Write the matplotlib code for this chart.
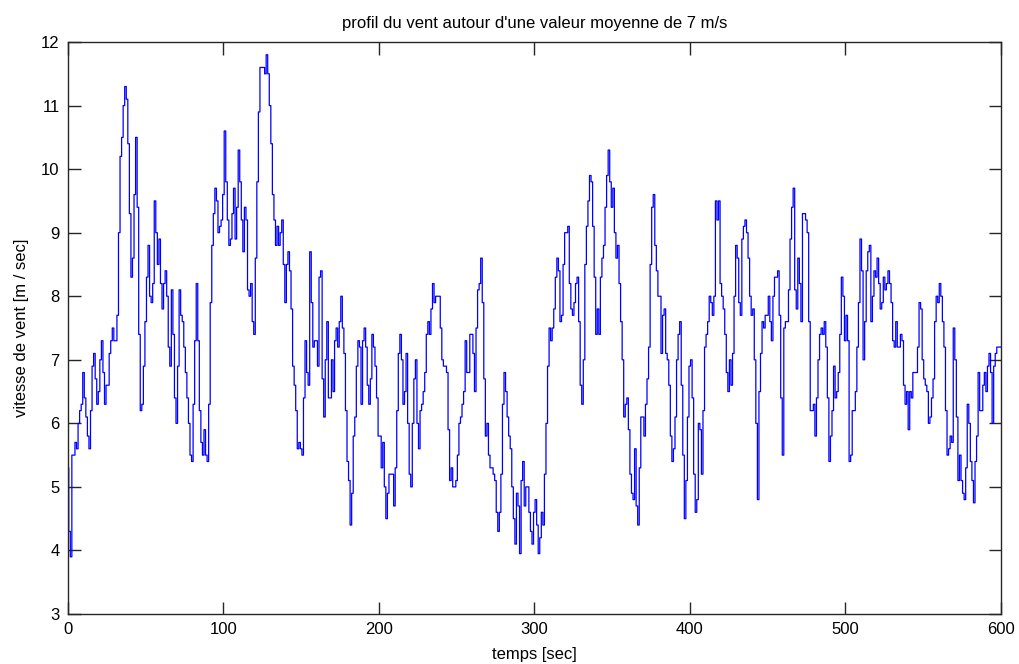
import numpy as np
import matplotlib.pyplot as plt

# vitesse du vent, un point par seconde
seg_0_100 = [5.3, 4.3, 3.9, 5.5, 5.5, 5.7, 5.6, 6.0, 6.2, 6.3,
             6.8, 6.4, 6.1, 5.8, 5.6, 6.2, 6.9, 7.1, 6.7, 6.3,
             6.5, 7.0, 7.3, 6.8, 6.3, 6.6, 6.6, 7.1, 7.3, 7.5,
             7.3, 7.3, 7.7, 9.0, 10.2, 10.5, 11.0, 11.3, 11.1, 10.4,
             9.3, 8.3, 8.6, 9.6, 10.5, 9.4, 7.4, 6.2, 6.3, 6.9,
             7.6, 8.3, 8.8, 8.0, 7.9, 8.2, 9.5, 9.0, 8.5, 8.9,
             8.2, 7.8, 8.2, 8.4, 8.0, 7.2, 6.9, 8.1, 7.4, 6.4,
             6.0, 6.9, 8.1, 7.7, 7.6, 7.2, 6.8, 6.4, 6.0, 5.5,
             5.4, 6.3, 7.3, 8.2, 7.3, 6.2, 5.7, 5.5, 5.9, 5.5,
             5.4, 6.3, 7.9, 8.8, 9.3, 9.7, 9.5, 9.0, 9.1, 9.2,
             9.6]
seg_100_200 = [10.6, 9.8, 9.2, 8.8, 8.9, 9.3, 9.7, 8.9, 9.4, 10.3,
               9.8, 9.2, 8.7, 9.4, 9.2, 8.1, 8.0, 8.2, 7.6, 7.4,
               8.6, 9.8, 10.9, 11.6, 11.6, 11.6, 11.5, 11.8, 11.5, 11.0,
               10.4, 9.6, 9.2, 8.8, 9.1, 8.8, 9.0, 9.2, 8.5, 7.9,
               8.5, 8.7, 8.4, 7.8, 6.9, 6.6, 6.2, 5.6, 5.7, 5.6,
               5.5, 6.4, 7.3, 6.8, 6.6, 8.7, 7.9, 7.2, 7.3, 7.3,
               6.9, 8.3, 8.4, 6.7, 6.1, 7.0, 7.6, 6.4, 6.4, 7.0,
               6.5, 7.3, 7.5, 7.2, 7.6, 8.0, 7.5, 7.1, 6.2, 5.4,
               5.1, 4.4, 4.9, 5.8, 6.1, 6.9, 7.3, 7.2, 6.3, 7.3,
               7.5, 7.2, 6.6, 6.3, 6.7, 7.4, 7.2, 6.9, 6.4, 5.8]
seg_200_300 = [5.8, 5.3, 5.7, 5.0, 4.5, 4.9, 5.2, 5.2, 5.2, 4.7,
               5.3, 6.2, 7.1, 7.4, 7.0, 6.3, 6.5, 7.1, 6.0, 5.2,
               5.0, 6.0, 6.7, 7.0, 6.0, 5.6, 6.2, 6.3, 6.5, 6.8,
               7.4, 7.6, 7.4, 7.8, 8.2, 7.9, 8.0, 8.0, 8.0, 7.5,
               7.0, 6.9, 6.9, 6.8, 5.9, 5.1, 5.3, 5.0, 5.0, 5.1,
               5.5, 6.0, 6.1, 6.3, 6.5, 7.3, 6.8, 6.8, 7.4, 7.4,
               7.1, 6.5, 7.5, 8.1, 8.2, 8.6, 7.9, 6.7, 5.8, 6.0,
               5.5, 5.3, 5.3, 5.2, 5.1, 4.6, 4.3, 4.6, 5.2, 6.3,
               6.8, 6.5, 6.1, 5.8, 5.6, 5.0, 4.5, 4.1, 4.9, 4.7,
               3.95, 5.1, 5.4, 4.7, 5.0, 5.0, 4.6, 4.3, 4.1, 4.6]
seg_300_400 = [4.8, 4.4, 3.95, 4.2, 4.6, 4.4, 5.2, 6.0, 6.9, 7.5,
               7.3, 7.5, 7.8, 8.3, 8.6, 8.4, 7.6, 7.7, 8.5, 9.0,
               9.0, 9.1, 8.2, 7.8, 7.7, 7.9, 8.2, 8.3, 7.6, 6.6,
               6.3, 7.0, 8.5, 9.1, 9.5, 9.9, 9.8, 9.1, 8.3, 7.4,
               7.8, 7.4, 8.3, 8.6, 8.8, 9.4, 9.9, 10.3, 9.8, 9.4,
               9.7, 9.0, 8.6, 8.8, 8.2, 7.6, 7.0, 6.1, 6.3, 6.4,
               5.9, 5.2, 4.9, 4.8, 5.6, 4.7, 4.4, 5.3, 6.1, 6.1,
               5.8, 6.3, 6.7, 7.2, 8.5, 9.4, 9.6, 8.8, 8.4, 8.0,
               8.0, 7.1, 7.7, 7.8, 7.1, 7.0, 6.6, 5.8, 5.4, 5.6,
               6.1, 7.0, 7.4, 7.6, 6.6, 5.5, 4.5, 5.1, 6.1, 6.9]
seg_400_500 = [7.0, 6.4, 5.2, 4.6, 4.8, 6.0, 5.9, 5.2, 6.2, 7.2,
               7.4, 7.6, 8.0, 7.9, 7.7, 8.0, 9.5, 9.2, 9.5, 8.2,
               8.0, 7.8, 7.4, 6.8, 6.5, 7.0, 6.6, 7.1, 8.0, 8.8,
               8.6, 7.9, 7.7, 8.9, 9.1, 9.2, 9.0, 8.6, 8.0, 7.7,
               7.8, 7.0, 6.0, 4.8, 6.5, 7.1, 7.6, 7.5, 7.7, 7.7,
               8.0, 7.6, 7.3, 8.0, 8.3, 8.3, 8.4, 7.7, 6.4, 5.5,
               7.5, 7.6, 7.6, 8.1, 8.9, 9.4, 9.7, 8.1, 7.8, 8.6,
               8.2, 7.6, 9.3, 9.3, 9.2, 9.0, 7.6, 6.2, 6.2, 6.3,
               5.8, 6.4, 7.0, 7.4, 7.5, 7.4, 7.6, 7.2, 6.4, 5.4,
               5.8, 6.2, 6.9, 6.4, 6.5, 6.8, 7.4, 8.3, 8.0, 7.3]
seg_500_600 = [7.7, 7.3, 5.4, 5.5, 6.2, 6.2, 6.5, 7.2, 7.9, 8.9,
               8.4, 7.0, 7.6, 8.4, 8.7, 8.8, 7.6, 8.0, 8.4, 8.3,
               8.6, 8.2, 7.8, 7.9, 8.3, 8.1, 8.2, 8.4, 8.2, 7.9,
               7.3, 7.2, 7.6, 7.2, 7.2, 7.4, 7.3, 6.6, 6.3, 6.5,
               5.9, 6.5, 6.4, 6.8, 6.8, 6.8, 7.2, 7.9, 7.8, 7.0,
               6.7, 6.6, 6.5, 6.0, 6.1, 6.4, 6.7, 7.6, 8.0, 7.9,
               8.2, 8.0, 7.6, 7.2, 6.2, 5.5, 5.6, 5.8, 5.7, 7.5,
               7.0, 6.1, 5.1, 5.5, 5.1, 4.9, 4.8, 5.3, 6.3, 6.0,
               5.4, 5.1, 4.75, 5.4, 5.8, 6.8, 6.2, 6.2, 6.6, 6.8,
               6.5, 6.9, 7.1, 6.8, 6.0, 6.9, 7.1, 7.2, 7.2, 7.2]

vitesse = np.array(seg_0_100 + seg_100_200 + seg_200_300 +
                   seg_300_400 + seg_400_500 + seg_500_600)
temps = np.arange(len(vitesse))

plt.rcParams['font.family'] = ['Liberation Sans', 'DejaVu Sans']

fig = plt.figure(figsize=(10.19, 6.64), dpi=100)
ax = fig.add_axes([0.0667, 0.0753, 0.9153, 0.8614])

# la courbe d'origine a des sauts presque verticaux
ax.plot(temps, vitesse, color='#0000ff', linewidth=0.9, drawstyle='steps-mid')

ax.set_xlim(0, 600)
ax.set_ylim(3, 12)
ax.set_xticks(np.arange(0, 601, 100))
ax.set_yticks(np.arange(3, 13, 1))
ax.tick_params(direction='in', top=True, right=True, length=9, width=1,
               labelsize=12, pad=6, colors='#262626', labelcolor='black')
for s in ax.spines.values():
    s.set_linewidth(1)
    s.set_color('#262626')

ax.set_title("profil du vent autour d'une valeur moyenne de 7 m/s",
             fontsize=12, pad=10)
ax.set_xlabel('temps [sec]', fontsize=12, labelpad=7)
ax.set_ylabel('vitesse de vent [m / sec]', fontsize=12, labelpad=9)

fig.savefig('out.png', dpi=100)
